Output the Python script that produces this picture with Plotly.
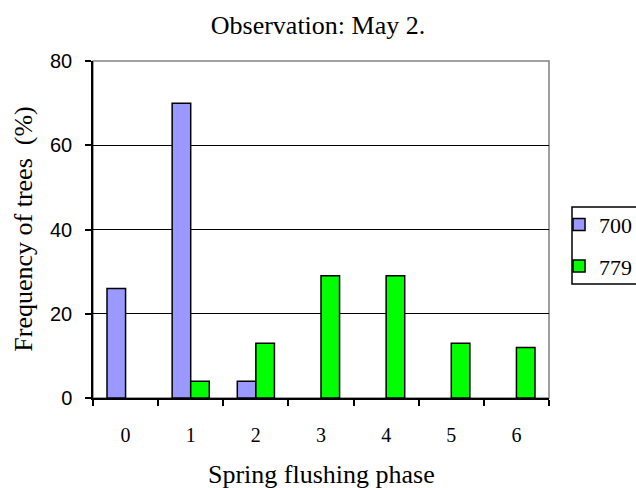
import plotly.graph_objects as go

categories = ["0", "1", "2", "3", "4", "5", "6"]
series_700 = [26, 70, 4, 0, 0, 0, 0]
series_779 = [0, 4, 13, 29, 29, 13, 12]
y_ticks = [0, 20, 40, 60, 80]

SERIF = "Liberation Serif, Times New Roman, serif"
SANS = "Liberation Sans, Arial, sans-serif"


def hide_zero(values):
    # zero-height bars are not drawn in the reference (no outline at the baseline)
    return [v if v != 0 else None for v in values]


fig = go.Figure()
fig.add_trace(go.Bar(x=categories, y=hide_zero(series_700), name="700", legendgroup="a",
                     marker=dict(color="#9999FF", line=dict(color="black", width=1.5))))
fig.add_trace(go.Bar(x=categories, y=hide_zero(series_779), name="779", legendgroup="b",
                     marker=dict(color="#00FF00", line=dict(color="black", width=1.5))))

fig.update_layout(
    width=636, height=488,
    margin=dict(l=93, r=87, t=61, b=90, autoexpand=False),
    paper_bgcolor="white", plot_bgcolor="white",
    barmode="group", bargap=0.43, bargroupgap=0,
    title=dict(text="Observation: May 2.", x=0.5, xref="container", xanchor="center",
               y=0.949, yref="container", yanchor="middle",
               font=dict(family=SERIF, size=26, color="black")),
    legend=dict(x=1.022, xanchor="left", y=0.452, yanchor="middle",
                borderwidth=0, bgcolor="rgba(0,0,0,0)",
                font=dict(family=SERIF, size=22, color="black"),
                tracegroupgap=10, traceorder="grouped", itemwidth=30),
    showlegend=True,
)
fig.update_xaxes(
    type="category", showline=True, linecolor="black", linewidth=1.5,
    ticks="outside", tickson="boundaries", ticklen=6, tickwidth=1.5, tickcolor="black",
    showgrid=False, ticklabelstandoff=18, automargin=False,
    tickfont=dict(family=SERIF, size=20, color="black"),
)
fig.update_yaxes(
    range=[0, 80], tickvals=y_ticks, showline=True, linecolor="black", linewidth=1.5,
    ticks="outside", ticklen=6, tickwidth=1.5, tickcolor="black",
    showgrid=True, gridcolor="black", gridwidth=1.2, zeroline=False,
    ticklabelstandoff=9, automargin=False,
    tickfont=dict(family=SANS, size=20, color="black"),
)
# axis titles
fig.add_annotation(text="Spring flushing phase", xref="paper", yref="paper",
                   x=0.5, y=-0.228, xanchor="center", yanchor="middle", showarrow=False,
                   font=dict(family=SERIF, size=26, color="black"))
fig.add_annotation(text="Frequency of trees  (%)", xref="paper", yref="paper",
                   x=-0.153, y=0.5, xanchor="center", yanchor="middle", showarrow=False,
                   textangle=-90, font=dict(family=SERIF, size=26, color="black"))
# plot frame (grey top/right) and legend box
fig.add_shape(type="rect", xref="paper", yref="paper", x0=0, y0=0, x1=1, y1=1,
              line=dict(color="#808080", width=1.5), layer="below")
fig.add_shape(type="rect", xref="paper", yref="paper",
              x0=(572 - 93) / 456, x1=(650 - 93) / 456,
              y0=(398 - 284) / 337, y1=(398 - 207) / 337,
              line=dict(color="black", width=1.5), fillcolor="rgba(0,0,0,0)", layer="above")

fig.write_html("out.html", config={"displayModeBar": False},
               post_script="document.body.style.margin='0';")
